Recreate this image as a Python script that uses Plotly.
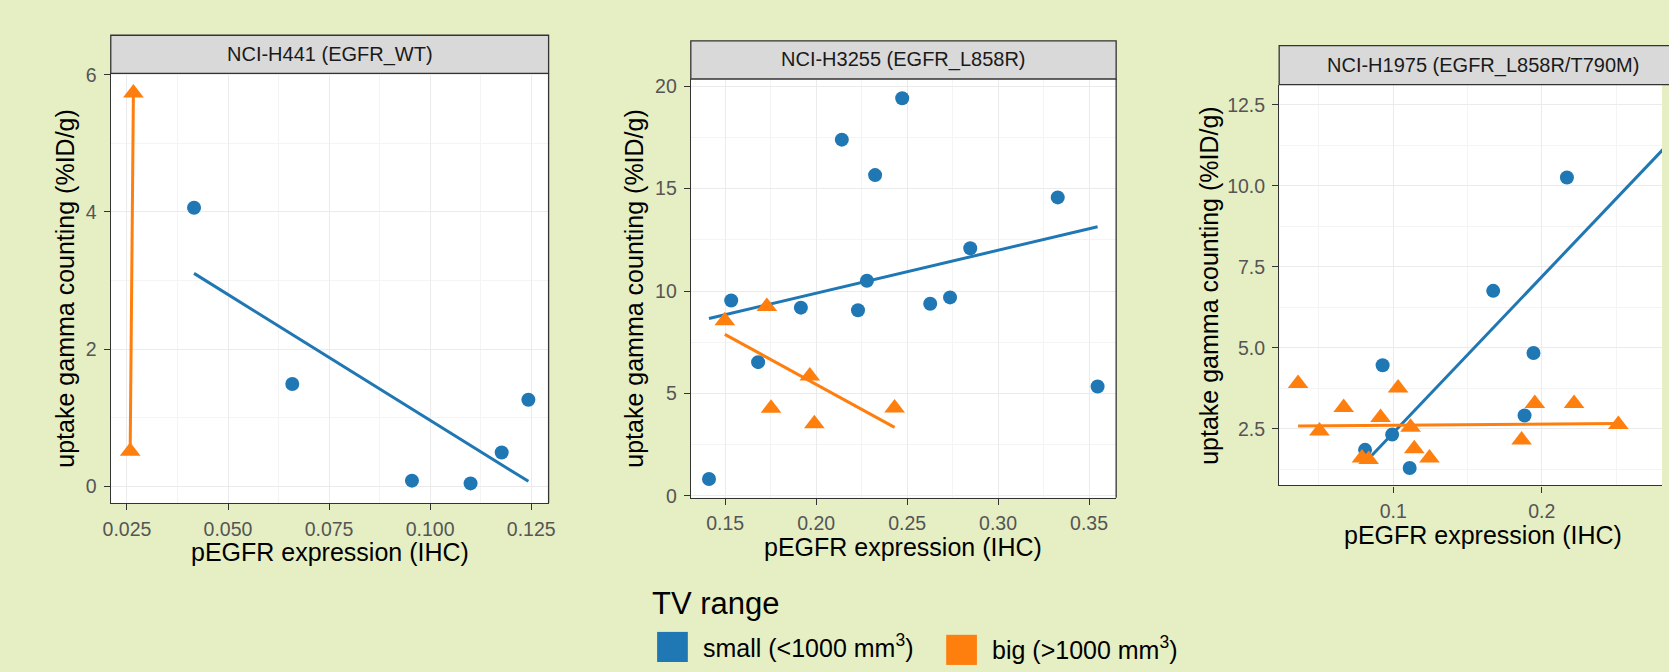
import numpy as np
import plotly.graph_objects as go

W, H = 1669, 672

panel_titles = ["NCI-H441 (EGFR_WT)", "NCI-H3255 (EGFR_L858R)", "NCI-H1975 (EGFR_L858R/T790M)"]
legend_title = "TV range"
legend_labels = ["small (<1000 mm<sup>3</sup>)", "big (>1000 mm<sup>3</sup>)"]
x_title = "pEGFR expression (IHC)"
y_title = "uptake gamma counting (%ID/g)"

# ---- data ----
p1_small_x = [0.0416, 0.0659, 0.0955, 0.1100, 0.1177, 0.1243]
p1_small_y = [4.06, 1.49, 0.08, 0.04, 0.49, 1.26]
p1_big_x = [0.0258, 0.0266]
p1_big_y = [0.51, 5.735]

p2_small_x = [0.1411, 0.1533, 0.1681, 0.1916, 0.2141, 0.2230, 0.2279, 0.2324, 0.2473,
              0.2627, 0.2736, 0.2847, 0.3328, 0.3547]
p2_small_y = [0.83, 9.54, 6.53, 9.19, 17.39, 9.06, 10.50, 15.66, 19.41,
              9.38, 9.69, 12.09, 14.57, 5.34]
p2_big_x = [0.1498, 0.1729, 0.1752, 0.1965, 0.1990, 0.2431]
p2_big_y = [8.55, 9.25, 4.28, 5.86, 3.53, 4.29]

p3_small_x = [0.0811, 0.0929, 0.0993, 0.1111, 0.1673, 0.1884, 0.1944, 0.2169, 0.2860]
p3_small_y = [1.85, 4.46, 2.32, 1.29, 6.76, 2.91, 4.84, 10.26, 12.57]
p3_big_x = [0.0360, 0.0504, 0.0667, 0.0790, 0.0835, 0.0915, 0.1033, 0.1117, 0.1142,
            0.1244, 0.1864, 0.1953, 0.2217, 0.2515]
p3_big_y = [3.90, 2.43, 3.16, 1.60, 1.55, 2.85, 3.76, 2.55, 1.88,
            1.60, 2.15, 3.28, 3.28, 2.63]

panels = [
    dict(sx=p1_small_x, sy=p1_small_y, bx=p1_big_x, by=p1_big_y),
    dict(sx=p2_small_x, sy=p2_small_y, bx=p2_big_x, by=p2_big_y),
    dict(sx=p3_small_x, sy=p3_small_y, bx=p3_big_x, by=p3_big_y),
]

BLUE = "#1F77B4"
ORANGE = "#FF7F0E"
BG = "#E6EFC3"
FONT = "Liberation Sans, Arial, sans-serif"

# ---- layout geometry (pixels) ----
# left, right, plot top, plot bottom, strip top
geo = [
    (103.7, 545.5, 65.3, 507.3, 26.0),
    (689.0, 1118.2, 71.0, 502.0, 31.7),
    (1282.7, 1695.0, 76.7, 489.3, 36.7),
]
xranges = [[0.0210, 0.1293], [0.1311, 0.3649], [0.0233, 0.28087]]
yranges = [[-0.245, 6.02], [-0.09, 20.35], [0.75, 13.13]]
xdt = [(0.025, ".3f", 0.0125), (0.05, ".2f", 0.025), (0.1, ".1f", 0.05)]
ydt = [(2, "d", 1), (5, "d", 2.5), (2.5, ".1f", 1.25)]
ytitle_x = [58, 632, 1211.7]
xtitle_y = [558, 552.5, 540.5]


def px(x):
    return x / W


def py(y):
    return 1 - y / H


fig = go.Figure()
for i, p in enumerate(panels):
    xa = "x" if i == 0 else f"x{i+1}"
    ya = "y" if i == 0 else f"y{i+1}"
    for gx, gy, col in [(p["sx"], p["sy"], BLUE), (p["bx"], p["by"], ORANGE)]:
        gx = np.array(gx)
        gy = np.array(gy)
        k, b = np.polyfit(gx, gy, 1)
        lx = np.array([gx.min(), gx.max()])
        fig.add_trace(go.Scatter(x=lx, y=k * lx + b, mode="lines",
                                 line=dict(color=col, width=3),
                                 xaxis=xa, yaxis=ya, showlegend=False, hoverinfo="skip"))
    fig.add_trace(go.Scatter(x=p["sx"], y=p["sy"], mode="markers",
                             marker=dict(symbol="circle", size=14, color=BLUE, line=dict(width=0)),
                             xaxis=xa, yaxis=ya, showlegend=False))
    fig.add_trace(go.Scatter(x=p["bx"], y=p["by"], mode="markers",
                             marker=dict(symbol="triangle-up", size=18, color=ORANGE, line=dict(width=0)),
                             xaxis=xa, yaxis=ya, showlegend=False))

layout = dict(
    width=W, height=H,
    margin=dict(l=0, r=0, t=0, b=0),
    paper_bgcolor=BG, plot_bgcolor="white",
    showlegend=False,
    font=dict(family=FONT, color="#000000"),
)

shapes = []
annotations = []
for i in range(3):
    L, R, T, B, ST = geo[i]
    sfx = "" if i == 0 else str(i + 1)
    last = (i == 2)
    xdom = [px(L), min(1.0, px(R))]
    dt, fmt, mdt = xdt[i]
    layout["xaxis" + sfx] = dict(
        domain=xdom, range=xranges[i], anchor="y" + sfx,
        dtick=dt, tick0=0, tickformat=fmt,
        showgrid=True, gridcolor="#EBEBEB", gridwidth=1.3,
        minor=dict(dtick=mdt, tick0=0, showgrid=True, gridcolor="#F4F4F4", gridwidth=0.9),
        zeroline=False, showline=True, linecolor="#333333", linewidth=1.3,
        mirror=False,
        ticks="outside", ticklen=6, tickcolor="#333333", tickwidth=1.3,
        tickfont=dict(family=FONT, size=19.5, color="#555555"),
        ticklabelstandoff=2,
    )
    dt, fmt, mdt = ydt[i]
    layout["yaxis" + sfx] = dict(
        domain=[py(B), py(T)], range=yranges[i], anchor="x" + sfx,
        dtick=dt, tick0=0, tickformat=fmt,
        showgrid=True, gridcolor="#EBEBEB", gridwidth=1.3,
        minor=dict(dtick=mdt, tick0=0, showgrid=True, gridcolor="#F4F4F4", gridwidth=0.9),
        zeroline=False, showline=True, linecolor="#333333", linewidth=1.3,
        mirror=False,
        ticks="outside", ticklen=6, tickcolor="#333333", tickwidth=1.3,
        tickfont=dict(family=FONT, size=19.5, color="#555555"),
        ticklabelstandoff=3,
    )
    # right border (not for the clipped third panel)
    if not last:
        shapes.append(dict(type="line", xref="paper", yref="paper",
                           x0=px(R), x1=px(R), y0=py(B), y1=py(T),
                           line=dict(color="#333333", width=1.3)))
    # strip
    shapes.append(dict(type="rect", xref="paper", yref="paper",
                       x0=px(L), x1=px(R), y0=py(T), y1=py(ST),
                       fillcolor="#D9D9D9", line=dict(color="#333333", width=1.3), layer="above"))
    annotations.append(dict(text=panel_titles[i], xref="paper", yref="paper",
                            x=px((L + R) / 2), y=py((T + ST) / 2),
                            xanchor="center", yanchor="middle", showarrow=False,
                            font=dict(family=FONT, size=20, color="#1A1A1A")))
    # axis titles
    annotations.append(dict(text=x_title, xref="paper", yref="paper",
                            x=px((L + R) / 2), y=py(xtitle_y[i]),
                            xanchor="center", yanchor="middle", showarrow=False,
                            font=dict(family=FONT, size=25, color="#000000")))
    annotations.append(dict(text=y_title, xref="paper", yref="paper",
                            x=px(ytitle_x[i]), y=py((T + B) / 2), textangle=-90,
                            xanchor="center", yanchor="middle", showarrow=False,
                            font=dict(family=FONT, size=25, color="#000000")))

# legend (drawn manually)
annotations.append(dict(text=legend_title, xref="paper", yref="paper",
                        x=px(648), y=py(611), xanchor="left", yanchor="middle",
                        showarrow=False, font=dict(family=FONT, size=31, color="#000000")))
keys = [(655, 640, BLUE, 699, 655), (946.7, 643, ORANGE, 991, 657)]
for (kx, ky, col, tx, ty), lab in zip(keys, legend_labels):
    shapes.append(dict(type="rect", xref="paper", yref="paper",
                       x0=px(kx), x1=px(kx + 31), y0=py(ky + 31), y1=py(ky),
                       fillcolor=col, line=dict(width=0)))
    annotations.append(dict(text=lab, xref="paper", yref="paper",
                            x=px(tx), y=py(ty), xanchor="left", yanchor="middle",
                            showarrow=False, font=dict(family=FONT, size=25, color="#000000")))

layout["shapes"] = shapes
layout["annotations"] = annotations
fig.update_layout(**layout)

fig.write_html(
    "out.html",
    config=dict(displayModeBar=False),
    post_script="document.body.style.margin='0';document.body.style.overflow='hidden';",
)
